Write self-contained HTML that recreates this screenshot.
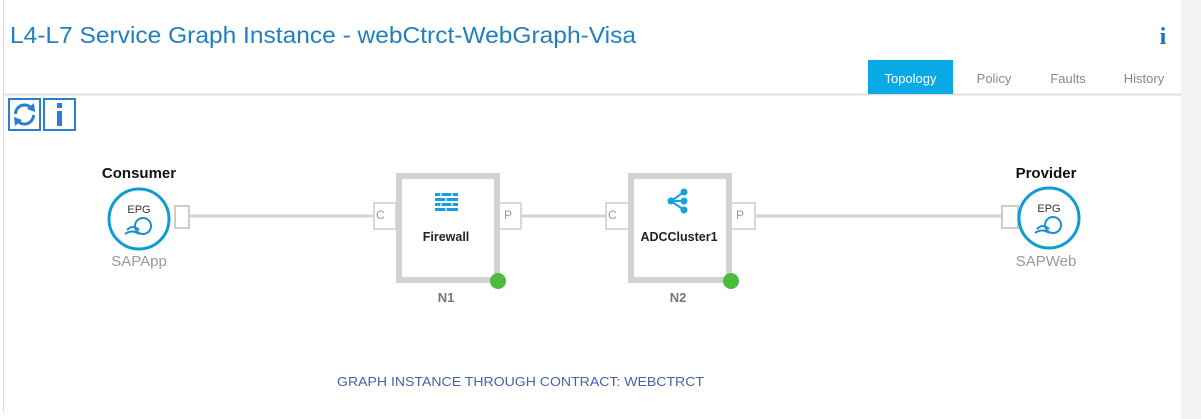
<!DOCTYPE html>
<html><head><meta charset="utf-8"><style>
html,body{margin:0;padding:0;background:#fff;width:1201px;height:419px;overflow:hidden}
svg{display:block;font-family:"Liberation Sans",Arial,sans-serif}
</style></head><body>
<svg width="1201" height="419" viewBox="0 0 1201 419" xmlns="http://www.w3.org/2000/svg">
<rect x="1181" y="0" width="20" height="419" fill="#f2f2f2"/>
<line x1="3.5" y1="0" x2="3.5" y2="412" stroke="#d8d8d8" stroke-width="1"/>
<line x1="4" y1="94.5" x2="1181" y2="94.5" stroke="#e0e0e0" stroke-width="2"/>
<text x="10" y="43" font-size="23" fill="#1f7fc0" textLength="626" lengthAdjust="spacingAndGlyphs">L4-L7 Service Graph Instance - webCtrct-WebGraph-Visa</text>
<text x="1163" y="44" font-size="24" font-weight="bold" fill="#1f6fc0" text-anchor="middle" font-family="Liberation Serif,serif">i</text>
<rect x="868" y="60" width="85" height="34" fill="#09a9e6"/>
<text x="910.5" y="83" font-size="13" fill="#fff" text-anchor="middle">Topology</text>
<text x="994" y="83" font-size="13" fill="#888" text-anchor="middle">Policy</text>
<text x="1068" y="83" font-size="13" fill="#888" text-anchor="middle">Faults</text>
<text x="1144" y="83" font-size="13" fill="#888" text-anchor="middle">History</text>
<rect x="9" y="99" width="31" height="31" fill="#fff" stroke="#2a7fd0" stroke-width="2"/>
<path d="M15.5 114 A9 9 0 0 1 32 109" fill="none" stroke="#2a7fd0" stroke-width="3"/>
<path d="M33.5 115 A9 9 0 0 1 17 120" fill="none" stroke="#2a7fd0" stroke-width="3"/>
<polygon points="34,103 35,112 27,109" fill="#2a7fd0"/>
<polygon points="15,126 14,117 22,120" fill="#2a7fd0"/>
<rect x="44" y="99" width="31" height="31" fill="#fff" stroke="#2a7fd0" stroke-width="2"/>
<rect x="57" y="103" width="5" height="5" fill="#2a7fd0"/>
<rect x="57" y="111" width="5" height="15" fill="#2a7fd0"/>
<!-- lines -->
<line x1="189" y1="216" x2="373" y2="216" stroke="#d4d4d4" stroke-width="3"/>
<line x1="522" y1="216" x2="606" y2="216" stroke="#d4d4d4" stroke-width="3"/>
<line x1="756" y1="216" x2="1002" y2="216" stroke="#d4d4d4" stroke-width="3"/>
<!-- consumer -->
<text x="139" y="178" font-size="15" font-weight="bold" fill="#111" text-anchor="middle">Consumer</text>
<rect x="175" y="206" width="14" height="22" fill="#fff" stroke="#ccc" stroke-width="2"/>
<circle cx="139" cy="219" r="30" fill="#fff" stroke="#0f9cd3" stroke-width="3"/>
<text x="139" y="213" font-size="11" fill="#333" text-anchor="middle">EPG</text>
<circle cx="143" cy="226" r="8" fill="none" stroke="#1a8fd0" stroke-width="2"/>
<path d="M127 230 q6-6 12 0 M125 234 q7-5 14 0" fill="none" stroke="#1a8fd0" stroke-width="2"/>
<text x="139" y="266" font-size="15" fill="#999" text-anchor="middle">SAPApp</text>
<!-- provider -->
<text x="1046" y="178" font-size="15" font-weight="bold" fill="#111" text-anchor="middle">Provider</text>
<rect x="1002" y="206" width="16" height="22" fill="#fff" stroke="#ccc" stroke-width="2"/>
<circle cx="1049" cy="218" r="30" fill="#fff" stroke="#0f9cd3" stroke-width="3"/>
<text x="1049" y="212" font-size="11" fill="#333" text-anchor="middle">EPG</text>
<circle cx="1053" cy="225" r="8" fill="none" stroke="#1a8fd0" stroke-width="2"/>
<path d="M1037 229 q6-6 12 0 M1035 233 q7-5 14 0" fill="none" stroke="#1a8fd0" stroke-width="2"/>
<text x="1046" y="266" font-size="15" fill="#999" text-anchor="middle">SAPWeb</text>
<!-- firewall -->
<rect x="374" y="203" width="22" height="26" fill="#fff" stroke="#ccc" stroke-width="1.5"/>
<text x="376" y="219" font-size="12" fill="#999">C</text>
<rect x="499" y="203" width="22" height="26" fill="#fff" stroke="#ccc" stroke-width="1.5"/>
<text x="504" y="219" font-size="12" fill="#999">P</text>
<rect x="399" y="176" width="98" height="104" fill="#fff" stroke="#d2d2d2" stroke-width="6"/>
<g fill="#17a0e0">
<rect x="435" y="193" width="23" height="3"/><rect x="435" y="198" width="23" height="3"/><rect x="435" y="203" width="23" height="3"/><rect x="435" y="208" width="23" height="3"/>
</g>
<g stroke="#fff" stroke-width="1.2"><line x1="441" y1="193" x2="441" y2="196"/><line x1="452" y1="193" x2="452" y2="196"/><line x1="446" y1="198" x2="446" y2="201"/><line x1="441" y1="203" x2="441" y2="206"/><line x1="452" y1="203" x2="452" y2="206"/><line x1="446" y1="208" x2="446" y2="211"/></g>
<text x="446" y="241" font-size="12.5" font-weight="bold" fill="#222" text-anchor="middle">Firewall</text>
<circle cx="498" cy="281" r="8" fill="#4cbb3e"/>
<text x="446" y="302" font-size="13" font-weight="bold" fill="#777" text-anchor="middle">N1</text>
<!-- ADC -->
<rect x="606" y="203" width="23" height="26" fill="#fff" stroke="#ccc" stroke-width="1.5"/>
<text x="608" y="219" font-size="12" fill="#999">C</text>
<rect x="731" y="203" width="24" height="26" fill="#fff" stroke="#ccc" stroke-width="1.5"/>
<text x="736" y="219" font-size="12" fill="#999">P</text>
<rect x="631" y="176" width="98" height="104" fill="#fff" stroke="#d2d2d2" stroke-width="6"/>
<g stroke="#17a0e0" stroke-width="2" fill="#17a0e0">
<line x1="671" y1="201" x2="684" y2="192"/><line x1="671" y1="201" x2="684" y2="201"/><line x1="671" y1="201" x2="684" y2="210"/>
<circle cx="671" cy="201" r="2.5"/><circle cx="684" cy="192" r="2.5"/><circle cx="684" cy="201" r="2.5"/><circle cx="684" cy="210" r="2.5"/>
</g>
<text x="679" y="241" font-size="12.5" font-weight="bold" fill="#222" text-anchor="middle">ADCCluster1</text>
<circle cx="731" cy="281" r="8" fill="#4cbb3e"/>
<text x="678" y="302" font-size="13" font-weight="bold" fill="#777" text-anchor="middle">N2</text>
<text x="337" y="386" font-size="13" fill="#4563a8" textLength="367" lengthAdjust="spacingAndGlyphs">GRAPH INSTANCE THROUGH CONTRACT: WEBCTRCT</text>
</svg>
</body></html>
